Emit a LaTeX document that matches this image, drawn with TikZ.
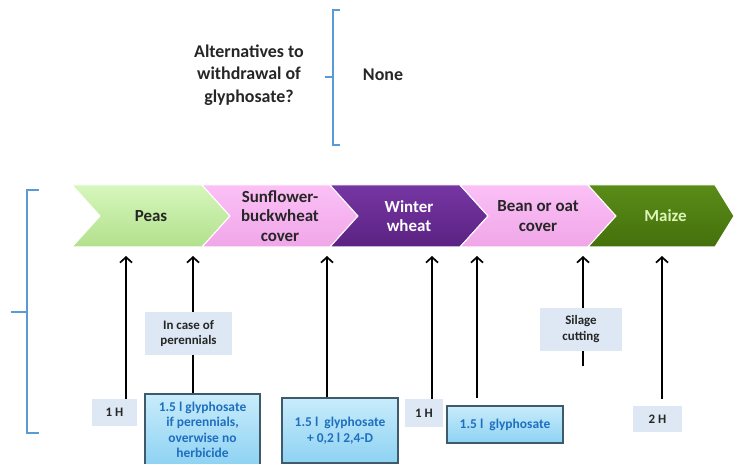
\documentclass[tikz,border=0pt]{standalone}
\usepackage{fontspec}
\setmainfont{Carlito}
\usetikzlibrary{arrows.meta}

\definecolor{bracketblue}{HTML}{5B9BD5}
\definecolor{textdark}{HTML}{262626}
\definecolor{peastop}{HTML}{D6F7BC}
\definecolor{peasbot}{HTML}{B2E08C}
\definecolor{pinktop}{HTML}{FBC0F6}
\definecolor{pinkbot}{HTML}{F0A6E8}
\definecolor{purpletop}{HTML}{7636A3}
\definecolor{purplebot}{HTML}{5A2282}
\definecolor{maizetop}{HTML}{5A8C18}
\definecolor{maizebot}{HTML}{44700C}
\definecolor{maizetext}{HTML}{DDF4B8}
\definecolor{notefill}{HTML}{DDE8F4}
\definecolor{dosetop}{HTML}{C8ECFB}
\definecolor{dosebot}{HTML}{8ED2F3}
\definecolor{doseborder}{HTML}{3F5A6B}
\definecolor{doseblue}{HTML}{1F6FC0}

\tikzset{
  cropname/.style={font=\bfseries\fontsize{17}{19.5}\selectfont, align=center},
  note/.style={fill=notefill, text=textdark, font=\bfseries\fontsize{13}{16}\selectfont, align=center, inner sep=0pt},
  dose/.style={draw=doseborder, line width=1.2bp, top color=dosetop, bottom color=dosebot, text=doseblue,
    font=\bfseries\fontsize{13.5}{15.5}\selectfont, align=center, inner sep=0pt},
  bracket/.style={draw=bracketblue, line width=2.5bp},
  arr/.style={draw, line width=1.7bp, ->},
}

\begin{document}
\begin{tikzpicture}[x=1bp, y=-1bp, >={Straight Barb[length=5.5bp,width=12bp]}]
  \useasboundingbox (0,0) rectangle (735,464);

  % Question
  \node[font=\bfseries\fontsize{18}{22.5}\selectfont, align=center, text=textdark] (alt) at (249,75)
    {Alternatives to\\withdrawal of\\glyphosate?};
  \node[font=\bfseries\fontsize{18}{22}\selectfont, text=textdark] (none) at (383,75) {None};
  \draw[bracket] (340,10) -- (333,10) -- (333,145) -- (340,145);
  \draw[bracket] (325,77) -- (333,77);

  % Rotation
  \draw[bracket] (39,190) -- (27,190) -- (27,433) -- (39,433);
  \draw[bracket] (11,312) -- (27,312);
  \foreach \xl/\xr/\tip/\ctop/\cbot/\ctxt/\nm/\txt in {
      72/202/28/peastop/peasbot/textdark/peas/Peas,
      202/330/28/pinktop/pinkbot/textdark/sunflower/{Sunflower-\\buckwheat\\cover},
      330/460/28/purpletop/purplebot/white/wheat/{Winter\\wheat},
      460/588/28/pinktop/pinkbot/textdark/bean/{Bean or oat\\cover},
      588/715/19/maizetop/maizebot/maizetext/maize/Maize} {
    \draw[white, line width=1bp, top color=\ctop, bottom color=\cbot]
      (\xl,185) -- (\xr,185) -- (\xr+\tip,216) -- (\xr,247) -- (\xl,247) -- (\xl+28,216) -- cycle;
    \node[cropname, text=\ctxt] (\nm) at ({(\xl+28+\xr)/2},216) {\txt};
  }

  % Arrow tips under the crops
  \foreach \i/\x in {1/126, 2/193, 3/327, 4/432, 5/477, 6/583, 7/662}
    \coordinate (t\i) at (\x,256);

  % Boxes
  \node[note, minimum width=45bp, minimum height=27bp] (h1a) at (114.5,412.5) {1 H};
  \node[note, minimum width=87bp, minimum height=43bp] (perenn) at (188.5,333.5) {In case of\\perennials};
  \node[dose, minimum width=115bp, minimum height=72bp] (glya) at (202.5,430)
    {1.5 l glyphosate\\if perennials,\\overwise no\\herbicide};
  \node[dose, minimum width=116bp, minimum height=65bp] (glyb) at (340,430.5) {1.5 l\ \ glyphosate\\+ 0,2 l 2,4-D};
  \node[note, minimum width=38bp, minimum height=28bp] (h1b) at (424,413) {1 H};
  \node[dose, minimum width=116bp, minimum height=37bp] (glyc) at (505,424.5) {1.5 l\ \ glyphosate};
  \node[note, minimum width=82bp, minimum height=43bp] (silage) at (581,329.5) {Silage\\cutting};
  \node[note, minimum width=49bp, minimum height=26bp] (h2) at (657.5,419) {2 H};
  \coordinate (silend) at (583,366);

  % Arrows
  \draw[arr] (h1a.north -| t1) -- (t1);
  \draw[arr] (perenn.north -| t2) -- (t2);
  \draw[line width=1.7bp] (glya.north -| t2) -- (perenn.south -| t2);
  \draw[arr] (glyb.north -| t3) -- (t3);
  \draw[arr] (h1b.north -| t4) -- (t4);
  \draw[arr, shorten <=7bp] (glyc.north -| t5) -- (t5);
  \draw[arr] (silage.north -| t6) -- (t6);
  \draw[line width=1.7bp] (silage.south -| silend) -- (silend);
  \draw[arr, shorten <=7bp] (h2.north -| t7) -- (t7);
\end{tikzpicture}
\end{document}
